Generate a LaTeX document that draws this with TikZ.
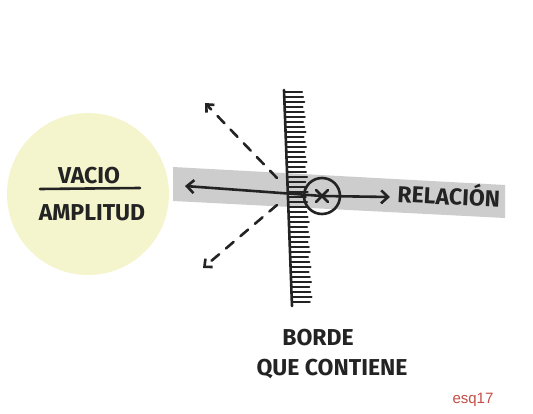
\documentclass[tikz,border=0pt]{standalone}
\usepackage{fontspec}
\setmainfont{Fira Sans}
\newfontfamily\arialfont{Liberation Sans}
\usetikzlibrary{arrows.meta}
\definecolor{paleyellow}{RGB}{245,245,205}
\definecolor{bandgray}{RGB}{200,200,200}
\definecolor{ink}{RGB}{35,35,35}
\definecolor{tagred}{RGB}{196,78,70}
\tikzset{
  ink line/.style={draw=ink, line width=2.6pt, line cap=round},
  hand/.style={font=\bfseries\fontsize{23}{25}\selectfont, text=ink, inner sep=0pt},
  dash arrow/.style={ink line, dash pattern=on 10pt off 9pt, -{Straight Barb[length=6pt,width=11pt]}},
  solid arrow/.style={ink line, -{Straight Barb[length=7pt,width=13pt]}}
}
\begin{document}
\begin{tikzpicture}[x=1pt,y=-1pt]
\useasboundingbox (0,0) rectangle (533,414);
\fill[white] (0,0) rectangle (533,414);
% yellow circle
\fill[paleyellow] (88,194) circle (81);
\node[hand] (vacio) at (89,176) {VACIO};
\draw[ink line] (40,189) -- (140,188);
\node[hand] (ampl) at (92,213) {AMPLITUD};
% gray band
\fill[bandgray, opacity=0.9] (173,167) -- (505,185) -- (505,218) -- (173,201) -- cycle;
% wall
\coordinate (wtop) at (284,90);
\coordinate (wbot) at (292,306);
\foreach \i in {0,...,42}{
  \pgfmathsetmacro{\yy}{92+\i*5}
  \pgfmathsetmacro{\xx}{284+(\yy-90)*8/216}
  \draw[ink line, line width=1.9pt] (\xx,\yy) -- ({\xx+18+mod(\i,3)},\yy);
}
\draw[ink line] (wtop) -- (wbot);
% circle with x
\node[draw=ink, line width=2.6pt, circle, minimum size=36pt, inner sep=0pt] (rel) at (322,196) {};
\draw[ink line] (316,190) -- (328,202) (328,190) -- (316,202);
% arrows
\coordinate (lend) at (185,186);
\coordinate (rend) at (390,197);
\draw[solid arrow] (rel.center) -- (lend);
\draw[solid arrow] (rel.center) -- (rend);
\coordinate (dup) at (205,103);
\coordinate (ddn) at (203,268);
\draw[dash arrow] (277,178) -- (dup);
\draw[dash arrow] (277,205) -- (ddn);
% labels
\node[hand, rotate=-3] (relacion) at (449,194) {RELACIÓN};
\node[hand] (borde) at (318,338) {BORDE};
\node[hand] (que) at (332,369) {QUE CONTIENE};
\node[font=\arialfont\fontsize{15}{17}\selectfont, text=tagred, inner sep=0pt] (tag) at (473,400) {esq17};
\end{tikzpicture}
\end{document}
